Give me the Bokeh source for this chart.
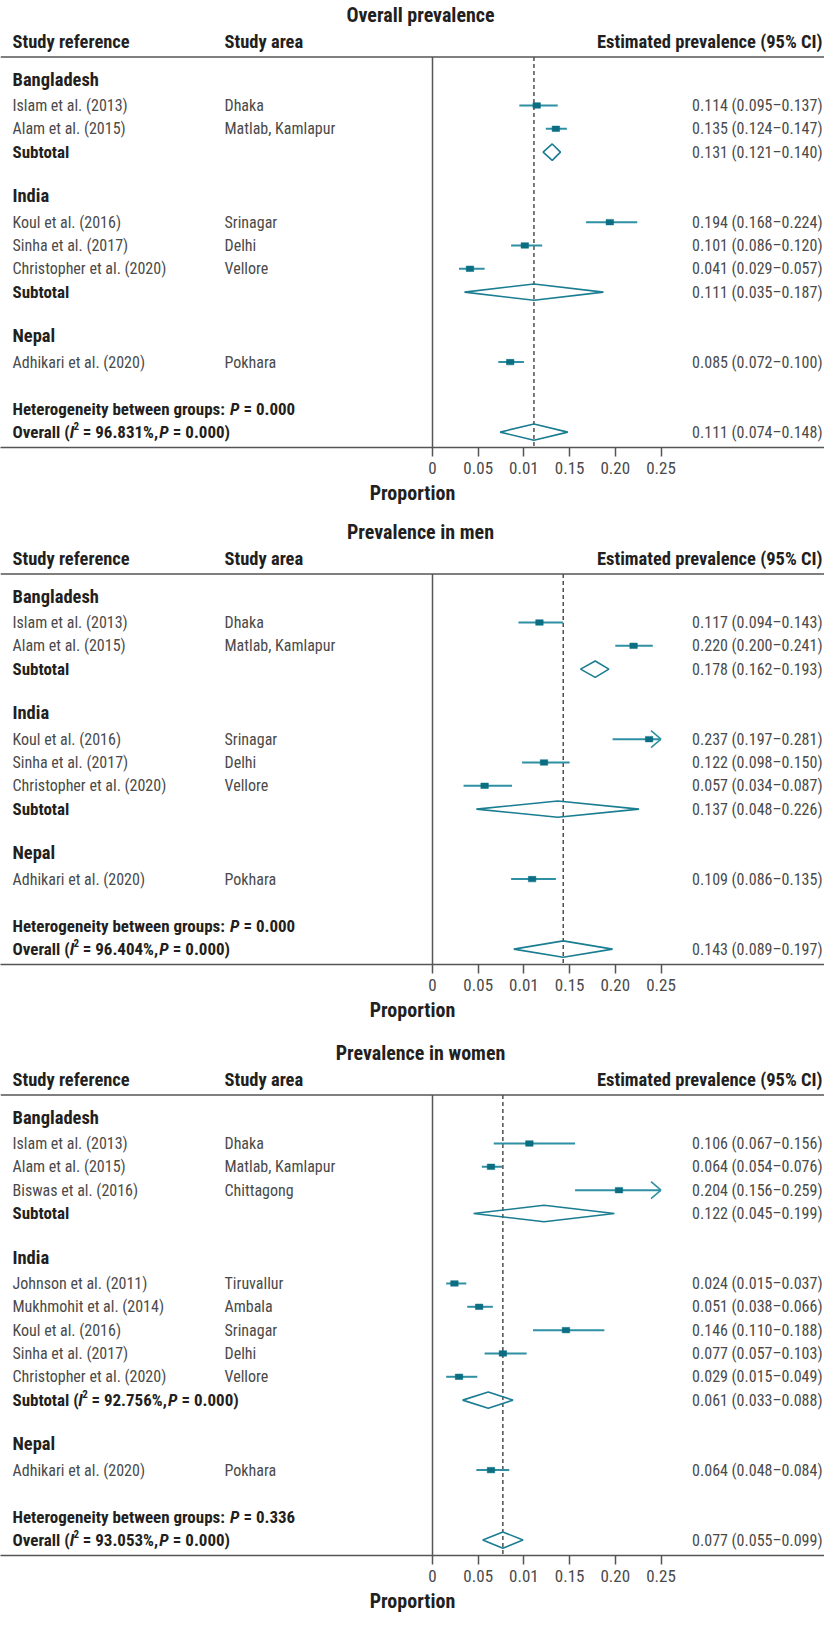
from bokeh.plotting import figure
from bokeh.models import ColumnDataSource, Range1d, Span, FixedTicker
from bokeh.layouts import column
from bokeh.embed import file_html
from bokeh.resources import INLINE
from bokeh.core.properties import value

# ------------------------------------------------------------------ data
group_names = ["Bangladesh", "India", "Nepal"]
x_ticks = [0.0, 0.05, 0.10, 0.15, 0.20, 0.25]
x_tick_labels = ["0", "0.05", "0.01", "0.15", "0.20", "0.25"]

# Panel A : overall prevalence
a_title = "Overall prevalence"
a_study = ["Islam et al. (2013)", "Alam et al. (2015)", "Koul et al. (2016)",
           "Sinha et al. (2017)", "Christopher et al. (2020)", "Adhikari et al. (2020)"]
a_area = ["Dhaka", "Matlab, Kamlapur", "Srinagar", "Delhi", "Vellore", "Pokhara"]
a_group = [0, 0, 1, 1, 1, 2]
a_est = [0.114, 0.135, 0.194, 0.101, 0.041, 0.085]
a_lo = [0.095, 0.124, 0.168, 0.086, 0.029, 0.072]
a_hi = [0.137, 0.147, 0.224, 0.120, 0.057, 0.100]
a_sub_est = [0.131, 0.111, None]
a_sub_lo = [0.121, 0.035, None]
a_sub_hi = [0.140, 0.187, None]
a_sub_i2 = [None, None, None]
a_sub_p = [None, None, None]
a_het_p = "0.000"
a_overall = [0.111, 0.074, 0.148]
a_overall_i2 = "96.831%"
a_overall_p = "0.000"

# Panel B : prevalence in men
b_title = "Prevalence in men"
b_study = ["Islam et al. (2013)", "Alam et al. (2015)", "Koul et al. (2016)",
           "Sinha et al. (2017)", "Christopher et al. (2020)", "Adhikari et al. (2020)"]
b_area = ["Dhaka", "Matlab, Kamlapur", "Srinagar", "Delhi", "Vellore", "Pokhara"]
b_group = [0, 0, 1, 1, 1, 2]
b_est = [0.117, 0.220, 0.237, 0.122, 0.057, 0.109]
b_lo = [0.094, 0.200, 0.197, 0.098, 0.034, 0.086]
b_hi = [0.143, 0.241, 0.281, 0.150, 0.087, 0.135]
b_sub_est = [0.178, 0.137, None]
b_sub_lo = [0.162, 0.048, None]
b_sub_hi = [0.193, 0.226, None]
b_sub_i2 = [None, None, None]
b_sub_p = [None, None, None]
b_het_p = "0.000"
b_overall = [0.143, 0.089, 0.197]
b_overall_i2 = "96.404%"
b_overall_p = "0.000"

# Panel C : prevalence in women
c_title = "Prevalence in women"
c_study = ["Islam et al. (2013)", "Alam et al. (2015)", "Biswas et al. (2016)",
           "Johnson et al. (2011)", "Mukhmohit et al. (2014)", "Koul et al. (2016)",
           "Sinha et al. (2017)", "Christopher et al. (2020)", "Adhikari et al. (2020)"]
c_area = ["Dhaka", "Matlab, Kamlapur", "Chittagong", "Tiruvallur", "Ambala",
          "Srinagar", "Delhi", "Vellore", "Pokhara"]
c_group = [0, 0, 0, 1, 1, 1, 1, 1, 2]
c_est = [0.106, 0.064, 0.204, 0.024, 0.051, 0.146, 0.077, 0.029, 0.064]
c_lo = [0.067, 0.054, 0.156, 0.015, 0.038, 0.110, 0.057, 0.015, 0.048]
c_hi = [0.156, 0.076, 0.259, 0.037, 0.066, 0.188, 0.103, 0.049, 0.084]
c_sub_est = [0.122, 0.061, None]
c_sub_lo = [0.045, 0.033, None]
c_sub_hi = [0.199, 0.088, None]
c_sub_i2 = [None, "92.756%", None]
c_sub_p = [None, "0.000", None]
c_het_p = "0.336"
c_overall = [0.077, 0.055, 0.099]
c_overall_i2 = "93.053%"
c_overall_p = "0.000"

# ------------------------------------------------------------------ style
FONT = "Roboto Condensed"
DARK = "#231f20"
GREY = "#4a4a4a"
AXC = "#555555"
SQ = "#0b6e82"
CIL = "#2f90a4"
DIA = "#1a7d91"

REG = 16        # regular text size
ROW_PX = 23.35
PX_PER_UNIT = 914.0
ZERO_PX = 432.0
FIG_W = 824
XS = -ZERO_PX / PX_PER_UNIT
XE = (FIG_W - ZERO_PX) / PX_PER_UNIT
CLIP = x_ticks[-1]


def px2x(px):
    return (px - ZERO_PX) / PX_PER_UNIT


COL_STUDY = px2x(12)
COL_AREA = px2x(224)
COL_VALUE = px2x(822)
TITLE_X = px2x(420)

# Arial Bold advance widths (1/1000 em); Roboto Condensed Bold ~ 0.84 of these
AW = {" ": 278, "(": 333, ")": 333, "%": 889, ",": 278, ".": 278, ":": 333, "=": 584,
      "A": 722, "B": 722, "H": 722, "I": 278, "O": 778, "P": 667, "S": 667,
      "a": 556, "b": 611, "c": 556, "d": 611, "e": 556, "f": 333, "g": 611, "h": 611,
      "i": 278, "l": 278, "m": 889, "n": 611, "o": 611, "p": 611, "r": 389, "s": 556,
      "t": 333, "u": 611, "v": 556, "w": 778, "y": 556}
WF = 0.84


def text_w(s, size):
    return sum(AW.get(ch, 556) for ch in s) * WF * size / 1000.0


def fmt(e, l, h):
    return f"{e:.3f} ({l:.3f}\u2013{h:.3f})"


def txt(p, x, y, t, size, style="normal", color=GREY, align="left", xo=0, yo=0):
    p.text(x=[x], y=[y], text=[t], x_offset=xo, y_offset=yo,
           text_font=value(FONT), text_font_style=style, text_font_size=f"{size}px",
           text_color=color, text_align=align, text_baseline="middle")


def segs(p, x, y, parts, size=17):
    off = 0.0
    for t, style, sup in parts:
        sz = 11 if sup else size
        lead = len(t) - len(t.lstrip(" "))
        trail = len(t) - len(t.rstrip(" "))
        core = t.strip(" ")
        off += text_w(" " * lead, sz)
        txt(p, x, y, core, sz, style, DARK, xo=off, yo=-6 if sup else 0)
        off += text_w(core, sz) + text_w(" " * trail, sz)


def i2_parts(head, i2, pv):
    return [(head + " (", "bold", False), ("I", "bold italic", False), ("2", "bold", True),
            (" = " + i2 + ", ", "bold", False), ("P", "bold italic", False),
            (" = " + pv + ")", "bold", False)]


def make_panel(title, study, area, group, est, lo, hi, sub_est, sub_lo, sub_hi,
               sub_i2, sub_p, het_p, overall, ov_i2, ov_p, bottom_px):
    rows, r = [], 0
    grp_rows, sub_rows = [], []
    for g in range(len(group_names)):
        grp_rows.append(r)
        r += 1
        for i in range(len(study)):
            if group[i] == g:
                rows.append(r)
                r += 1
        if sub_est[g] is not None:
            sub_rows.append((g, r))
            r += 1
        r += 1
    het_row, ov_row = r, r + 1
    bottom = ov_row + 0.66
    top = -3.5
    head_line = -1.08

    p = figure(frame_width=FIG_W, frame_height=int(round((bottom - top) * ROW_PX)),
               x_range=Range1d(XS, XE), y_range=Range1d(bottom, top),
               output_backend="svg", toolbar_location=None, title=None,
               y_axis_location=None, x_axis_location="below",
               min_border_left=0, min_border_right=0, min_border_top=0,
               min_border_bottom=bottom_px, outline_line_color=None,
               background_fill_color="white", border_fill_color="white")
    p.xgrid.visible = False
    p.ygrid.visible = False

    ax = p.xaxis[0]
    ax.ticker = FixedTicker(ticks=x_ticks)
    ax.major_label_overrides = dict(zip(x_ticks, x_tick_labels))
    ax.axis_line_color = AXC
    ax.axis_line_width = 1.5
    ax.major_tick_line_color = AXC
    ax.major_tick_line_width = 1.5
    ax.major_tick_in = 0
    ax.major_tick_out = 9
    ax.minor_tick_in = 0
    ax.minor_tick_out = 0
    ax.major_label_standoff = 5
    ax.major_label_text_font = FONT
    ax.major_label_text_font_size = "17px"
    ax.major_label_text_color = GREY
    ax.axis_label = "Proportion"
    ax.axis_label_standoff = 4
    ax.axis_label_text_font = FONT
    ax.axis_label_text_font_style = "bold"
    ax.axis_label_text_font_size = "20px"
    ax.axis_label_text_color = DARK

    # header
    txt(p, TITLE_X, -2.87, title, 20, "bold", DARK, "center")
    txt(p, COL_STUDY, -1.74, "Study reference", 18.5, "bold", DARK)
    txt(p, COL_AREA, -1.74, "Study area", 18.5, "bold", DARK)
    txt(p, COL_VALUE, -1.74, "Estimated prevalence (95% CI)", 18.5, "bold", DARK, "right")
    p.add_layout(Span(location=head_line, dimension="width", line_color=AXC, line_width=1.5))

    # reference lines
    p.segment(x0=[0], y0=[head_line], x1=[0], y1=[bottom], line_color=AXC, line_width=1.5)
    p.segment(x0=[overall[0]], y0=[head_line], x1=[overall[0]], y1=[bottom],
              line_color="#333333", line_width=1.3, line_dash="4 3")

    # group labels
    for g, gr in enumerate(grp_rows):
        txt(p, COL_STUDY, gr - 0.1, group_names[g], 18.5, "bold", DARK)

    # studies
    src = ColumnDataSource(dict(
        row=rows, est=est, lo=lo, hi_c=[min(h, CLIP) for h in hi],
        study=study, area=area, val=[fmt(e, l, h) for e, l, h in zip(est, lo, hi)]))
    p.segment(x0="lo", y0="row", x1="hi_c", y1="row", source=src, line_color=CIL, line_width=2)
    p.rect(x="est", y="row", width=7.5, height=5.5, width_units="screen", height_units="screen",
           source=src, fill_color=SQ, line_color=SQ, line_width=0.5)
    for col, xx, al in (("study", COL_STUDY, "left"), ("area", COL_AREA, "left"), ("val", COL_VALUE, "right")):
        p.text(x=xx, y="row", text=col, source=src, text_font=value(FONT),
               text_font_size=f"{REG}px", text_color=GREY, text_align=al, text_baseline="middle")

    # clipped CIs -> open arrow heads
    ax0, ay0, ax1, ay1 = [], [], [], []
    for rr, h in zip(rows, hi):
        if h > CLIP:
            for s in (-1, 1):
                ax0.append(CLIP)
                ay0.append(rr)
                ax1.append(CLIP - 10 / PX_PER_UNIT)
                ay1.append(rr + s * 8.5 / ROW_PX)
    if ax0:
        p.segment(x0=ax0, y0=ay0, x1=ax1, y1=ay1, line_color=CIL, line_width=1.6)

    # diamonds
    hh = 8.2 / ROW_PX
    dxs, dys = [], []
    for g, sr in sub_rows:
        e, l, h = sub_est[g], sub_lo[g], sub_hi[g]
        dxs.append([l, e, h, e])
        dys.append([sr, sr - hh, sr, sr + hh])
        if sub_i2[g] is None:
            txt(p, COL_STUDY, sr, "Subtotal", 17, "bold", DARK)
        else:
            segs(p, COL_STUDY, sr, i2_parts("Subtotal", sub_i2[g], sub_p[g]))
        txt(p, COL_VALUE, sr, fmt(e, l, h), REG, "normal", GREY, "right")
    e, l, h = overall
    dxs.append([l, e, h, e])
    dys.append([ov_row, ov_row - hh, ov_row, ov_row + hh])
    p.patches(xs=dxs, ys=dys, fill_color=None, line_color=DIA, line_width=1.6)

    segs(p, COL_STUDY, het_row, [("Heterogeneity between groups: ", "bold", False),
                                 ("P", "bold italic", False), (" = " + het_p, "bold", False)])
    segs(p, COL_STUDY, ov_row, i2_parts("Overall", ov_i2, ov_p))
    txt(p, COL_VALUE, ov_row, fmt(e, l, h), REG, "normal", GREY, "right")
    return p


pa = make_panel(a_title, a_study, a_area, a_group, a_est, a_lo, a_hi, a_sub_est, a_sub_lo,
                a_sub_hi, a_sub_i2, a_sub_p, a_het_p, a_overall, a_overall_i2, a_overall_p, 70)
pb = make_panel(b_title, b_study, b_area, b_group, b_est, b_lo, b_hi, b_sub_est, b_sub_lo,
                b_sub_hi, b_sub_i2, b_sub_p, b_het_p, b_overall, b_overall_i2, b_overall_p, 74)
pc = make_panel(c_title, c_study, c_area, c_group, c_est, c_lo, c_hi, c_sub_est, c_sub_lo,
                c_sub_hi, c_sub_i2, c_sub_p, c_het_p, c_overall, c_overall_i2, c_overall_p, 63)

layout = column(pa, pb, pc, spacing=0)
open("out.html", "w").write(file_html(layout, INLINE))
